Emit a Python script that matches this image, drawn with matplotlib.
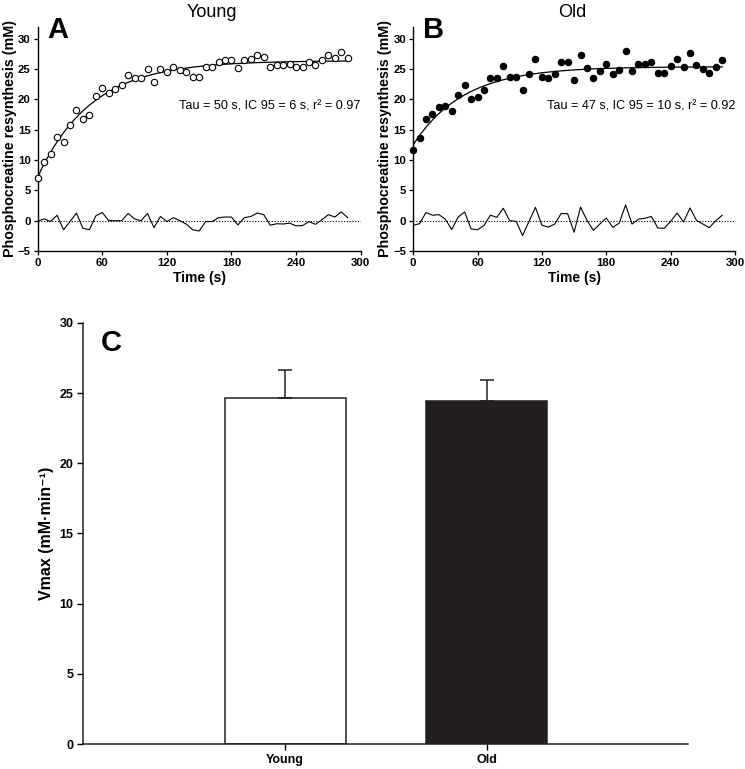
import numpy as np
import matplotlib
matplotlib.use('Agg')
import matplotlib.pyplot as plt

# tiempos de muestreo (s), cada 6 s
tiempo = np.arange(0, 289, 6)

# Panel A - Young
young_pcr = [7.1, 9.6, 11.0, 13.75, 12.9, 15.8, 18.2, 16.7, 17.4, 20.6,
             21.9, 21.1, 21.7, 22.4, 24.0, 23.5, 23.5, 25.0, 22.9, 25.1,
             24.5, 25.4, 24.9, 24.5, 23.75, 23.75, 25.4, 25.4, 26.25, 26.5,
             26.5, 25.2, 26.5, 26.7, 27.4, 27.0, 25.3, 25.7, 25.65, 25.8,
             25.3, 25.4, 26.2, 25.7, 26.5, 27.3, 26.9, 27.8, 26.9]
young_resid = [-0.1, 0.3, -0.15, 0.9, -1.5, -0.15, 1.25, -1.25, -1.5, 0.8,
               1.35, 0.0, 0.0, 0.0, 1.2, 0.3, 0.0, 1.2, -1.15, 0.7,
               -0.15, 0.5, 0.0, -0.55, -1.5, -1.7, -0.15, -0.15, 0.5, 0.6,
               0.6, -0.7, 0.5, 0.7, 1.25, 1.0, -0.75, -0.5, -0.55, -0.4,
               -0.85, -0.8, -0.15, -0.6, 0.15, 1.0, 0.6, 1.45, 0.5]
young_fit = dict(y0=7.2, plateau=26.4, tau=50)

# Panel B - Old
old_pcr = [11.7, 13.6, 16.85, 17.55, 18.75, 18.9, 18.05, 20.8, 22.45, 20.1,
           20.4, 21.6, 23.6, 23.6, 25.5, 23.75, 23.75, 21.6, 24.2, 26.6,
           23.75, 23.6, 24.2, 26.1, 26.1, 23.2, 27.3, 25.2, 23.6, 24.7,
           25.8, 24.2, 24.85, 28.0, 24.7, 25.8, 25.8, 26.25, 24.35, 24.35,
           25.5, 26.75, 25.3, 27.7, 25.7, 25.0, 24.35, 25.4, 26.5]
old_resid = [-0.75, -0.5, 1.35, 0.9, 1.0, 0.25, -1.45, 0.6, 1.45, -1.35,
             -1.5, -0.8, 0.9, 0.55, 2.05, 0.0, -0.1, -2.45, -0.1, 2.2,
             -0.75, -1.05, -0.55, 1.2, 1.15, -1.9, 2.25, 0.05, -1.6, -0.55,
             0.45, -1.1, -0.4, 2.6, -0.55, 0.25, 0.4, 0.7, -1.2, -1.25,
             -0.1, 1.25, -0.2, 2.1, 0.05, -0.55, -1.15, 0.0, 0.9]
old_fit = dict(y0=12.5, plateau=25.4, tau=47)

# Panel C - Vmax
grupos = ['Young', 'Old']
vmax = [24.65, 24.43]
vmax_err = [2.0, 1.53]

FONT = ['Liberation Sans', 'DejaVu Sans']
NARROW = ['Liberation Sans Narrow', 'Liberation Sans', 'DejaVu Sans']
plt.rcParams['font.family'] = FONT

fig = plt.figure(figsize=(7.45, 7.69), dpi=100)


def panel_cinetica(rect, pcr, resid, fit, relleno, titulo, letra, texto, tx, lx):
    ax = fig.add_axes(rect)
    t_fino = np.linspace(0, tiempo[-1], 300)
    curva = fit['y0'] + (fit['plateau'] - fit['y0']) * (1 - np.exp(-t_fino / fit['tau']))
    ax.plot(t_fino, curva, color='black', lw=0.9, zorder=2)
    ax.plot(tiempo, pcr, 'o', ms=4.6, mfc=relleno, mec='black', mew=0.8, zorder=3, clip_on=False)
    ax.plot(tiempo, resid, color='black', lw=0.8)
    ax.axhline(0, color='black', lw=0.8, ls=(0, (1, 1.5)), zorder=1)
    ax.set_xlim(0, 300)
    ax.set_ylim(-5, 32)
    ax.set_xticks([0, 60, 120, 180, 240, 300])
    ax.set_yticks([-5, 0, 5, 10, 15, 20, 25, 30])
    for s in ['top', 'right']:
        ax.spines[s].set_visible(False)
    for s in ['left', 'bottom']:
        ax.spines[s].set_linewidth(1.0)
    ax.tick_params(direction='out', length=3, width=0.9, labelsize=8.2, pad=2)
    for lab in ax.get_xticklabels() + ax.get_yticklabels():
        lab.set_fontweight('bold')
    ax.set_xlabel('Time (s)', fontsize=10, fontweight='bold', labelpad=2)
    ax.set_ylabel('Phosphocreatine resynthesis (mM)', fontsize=10.3, fontweight='bold', labelpad=0.5)
    ax.text(300, 18.8, texto, ha='right', va='center', fontsize=9.1, clip_on=False)
    fig.text(lx, 1 - 38 / 769, letra, fontsize=21, fontweight='bold', va='baseline', ha='left')
    fig.text(tx, 0.984, titulo, ha='center', va='center', fontsize=13)
    return ax


panel_cinetica([0.0506, 0.6736, 0.4335, 0.2917], young_pcr, young_resid, young_fit, 'white',
               'Young', 'A', 'Tau = 50 s, IC 95 = 6 s, r² = 0.97', 0.285, 47 / 745)
panel_cinetica([0.5545, 0.6736, 0.4322, 0.2917], old_pcr, old_resid, old_fit, 'black',
               'Old', 'B', 'Tau = 47 s, IC 95 = 10 s, r² = 0.92', 0.768, 423 / 745)

# Panel C
axc = fig.add_axes([0.112, 0.0325, 0.812, 0.5475])
x = np.arange(len(grupos))
axc.errorbar(x, vmax, yerr=[np.zeros(len(vmax)), vmax_err], fmt='none', ecolor='#231f20',
             elinewidth=1.1, capsize=5, capthick=1.1, zorder=3)
axc.bar(x, vmax, width=0.6, color=['white', '#231f20'], edgecolor='#231f20', linewidth=1.1, zorder=2)
axc.set_xlim(-1, 2)
axc.set_ylim(0, 30)
axc.set_xticks(x)
axc.set_xticklabels(grupos)
axc.set_yticks(np.arange(0, 31, 5))
for s in ['top', 'right']:
    axc.spines[s].set_visible(False)
for s in ['left', 'bottom']:
    axc.spines[s].set_linewidth(1.1)
    axc.spines[s].set_color('#231f20')
axc.tick_params(direction='out', length=4, width=1.0, labelsize=9, pad=3)
for lab in axc.get_xticklabels() + axc.get_yticklabels():
    lab.set_family(NARROW)
    lab.set_fontweight('bold')
axc.set_ylabel('Vmax (mM·min⁻¹)', fontsize=11.5, fontweight='bold', labelpad=4)
axc.text(0.028, 0.985, 'C', transform=axc.transAxes, fontsize=21, fontweight='bold',
         va='top', ha='left')

fig.savefig('out.png', dpi=100)
